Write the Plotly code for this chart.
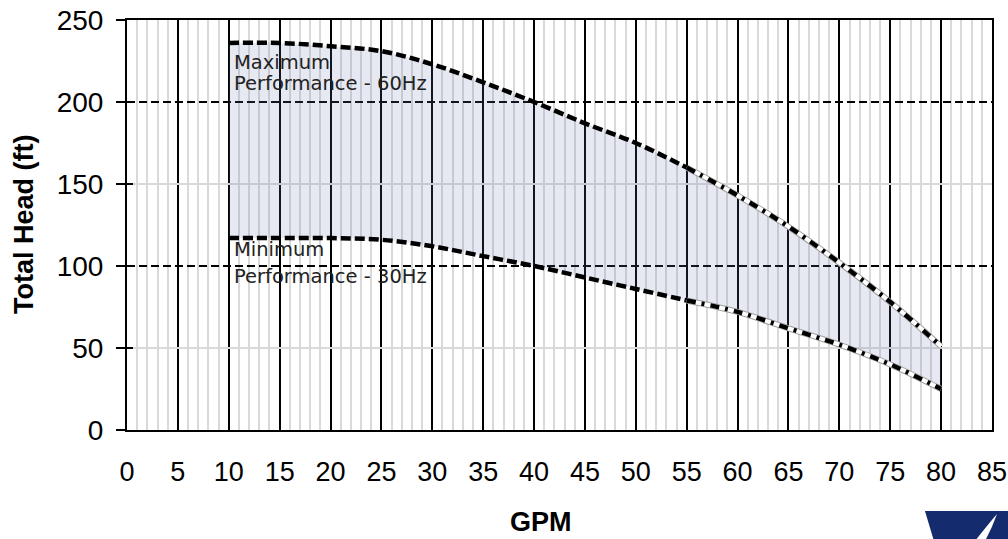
import plotly.graph_objects as go

# ---- data ----
gpm = [10, 15, 20, 25, 30, 35, 40, 45, 50, 55, 60, 65, 70, 75, 80]
head_max_60hz = [236, 236, 234, 231, 223, 212, 200, 187, 175, 160, 143, 124, 102, 78, 51]
head_min_30hz = [117, 117, 117, 116, 112, 106, 100, 93, 86, 79, 72, 62, 52, 40, 25]
x_ticks = list(range(0, 90, 5))
y_ticks = [0, 50, 100, 150, 200, 250]
label_max = ["Maximum", "Performance - 60Hz"]
label_min = ["Minimum", "Performance - 30Hz"]

split = gpm.index(55)

FONT = "Liberation Sans, Arial, sans-serif"
L, R, T, B = 127, 16, 20, 109
W, H = 1008, 539
fig = go.Figure()

# fill band between the curves
fig.add_trace(go.Scatter(x=gpm, y=head_min_30hz, mode="lines", line=dict(width=0, shape="spline"),
                         hoverinfo="skip", showlegend=False))
fig.add_trace(go.Scatter(x=gpm, y=head_max_60hz, mode="lines", line=dict(width=0, shape="spline"),
                         fill="tonexty", fillcolor="rgba(110,125,175,0.17)",
                         hoverinfo="skip", showlegend=False))

for ys in (head_max_60hz, head_min_30hz):
    # left portion: heavy dashed
    fig.add_trace(go.Scatter(x=gpm[:split + 1], y=ys[:split + 1], mode="lines",
                             line=dict(color="black", width=4.5, dash="10px,4px", shape="spline"),
                             showlegend=False))
    # right portion: outlined dash-dot
    fig.add_trace(go.Scatter(x=gpm[split:], y=ys[split:], mode="lines",
                             line=dict(color="#a0a0a0", width=6, shape="spline"),
                             showlegend=False))
    fig.add_trace(go.Scatter(x=gpm[split:], y=ys[split:], mode="lines",
                             line=dict(color="white", width=4, shape="spline"),
                             showlegend=False))
    fig.add_trace(go.Scatter(x=gpm[split:], y=ys[split:], mode="lines",
                             line=dict(color="black", width=4.5, dash="9px,6px,3px,6px", shape="spline"),
                             showlegend=False))

# empty traces to register overlay axes
for ax in ("y2", "y3", "y4"):
    fig.add_trace(go.Scatter(x=[], y=[], yaxis=ax, showlegend=False))

# curve labels
for i, txt in enumerate(label_max):
    fig.add_annotation(x=10.3, y=[224, 211.5][i], text=txt, showarrow=False,
                       xanchor="left", yanchor="middle",
                       font=dict(family="DejaVu Sans", size=19.5, color="#222"))
for i, txt in enumerate(label_min):
    fig.add_annotation(x=10.3, y=[110, 93.5][i], text=txt, showarrow=False,
                       xanchor="left", yanchor="middle",
                       font=dict(family="DejaVu Sans", size=19.5, color="#222"))

pw, ph = W - L - R, H - T - B
def px(xp, yp):
    return (xp - L) / pw, (H - B - yp) / ph

# x-axis title
gx, gy = px(541, 522)
fig.add_annotation(x=gx, y=gy, xref="paper", yref="paper", text="<b>GPM</b>",
                   showarrow=False, xanchor="center", yanchor="middle",
                   font=dict(family=FONT, size=27, color="black"))
# y-axis title
tx, _ = px(24, 0)
fig.add_annotation(x=tx, y=0.5, xref="paper", yref="paper", text="<b>Total Head (ft)</b>",
                   textangle=-90, showarrow=False, xanchor="center", yanchor="middle",
                   font=dict(family=FONT, size=27, color="black"))

# logo (decorative)
pts = [px(925, 511), px(1010, 511), px(1010, 541), px(934, 541)]
path = "M " + " L ".join(f"{a:.4f},{b:.4f}" for a, b in pts) + " Z"
fig.add_shape(type="path", path=path, xref="paper", yref="paper",
              fillcolor="#142c6e", line=dict(width=0), layer="above")
a, b, c, d = px(975, 541), px(997, 514), px(985, 541), px(990, 522)
e = px(992, 528)
fig.add_shape(type="path", xref="paper", yref="paper",
              path=f"M {a[0]:.4f},{a[1]:.4f} Q {d[0]:.4f},{d[1]:.4f} {b[0]:.4f},{b[1]:.4f} "
                   f"Q {e[0]:.4f},{e[1]:.4f} {c[0]:.4f},{c[1]:.4f} Z",
              fillcolor="white", line=dict(width=0), layer="above")

fig.update_layout(
    width=W, height=H,
    margin=dict(l=L, r=R, t=T, b=B, autoexpand=False),
    paper_bgcolor="white", plot_bgcolor="white",
    font=dict(family=FONT, size=27, color="black"),
    xaxis=dict(range=[0, 85], tickvals=x_ticks, ticks="", ticklabelstandoff=17,
               ticklabeloverflow="allow",
               showgrid=True, gridcolor="black", gridwidth=2, automargin=False,
               minor=dict(dtick=1, showgrid=True, gridcolor="#d9d9d9", gridwidth=2),
               showline=True, linecolor="black", linewidth=2, mirror=True,
               zeroline=False, tickfont=dict(size=27)),
    yaxis=dict(range=[0, 250], tickvals=y_ticks, ticks="outside", ticklen=9, tickwidth=2,
               tickcolor="black", showgrid=False, ticklabelstandoff=7, automargin=False,
               showline=True, linecolor="black", linewidth=2, mirror=True,
               zeroline=False, tickfont=dict(size=28)),
    yaxis2=dict(overlaying="y", range=[0, 250], tick0=50, dtick=100, showgrid=True,
                gridcolor="#d9d9d9", gridwidth=2, showticklabels=False, ticks="",
                showline=False, zeroline=False, automargin=False),
    yaxis3=dict(overlaying="y", range=[0, 250], tick0=0, dtick=100, showgrid=True,
                gridcolor="black", gridwidth=1.5, griddash="8px,4px", automargin=False,
                showticklabels=False, ticks="", showline=False, zeroline=False),
    yaxis4=dict(overlaying="y", range=[0, 250], tick0=0, dtick=50, showgrid=False,
                ticks="inside", ticklen=6, tickwidth=2, tickcolor="black", automargin=False,
                showticklabels=False, showline=False, zeroline=False),
)

fig.write_html("out.html", config={"displayModeBar": False},
               post_script="document.body.style.margin='0';document.body.style.overflow='hidden';")
